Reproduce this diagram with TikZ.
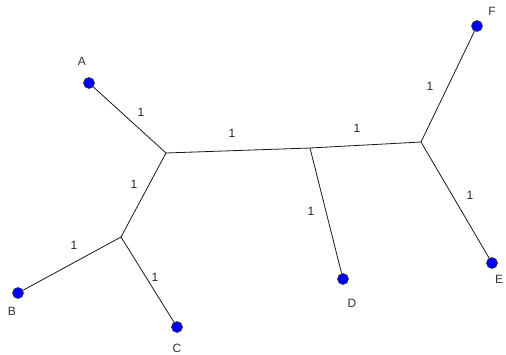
\documentclass[tikz,border=0pt]{standalone}
\usepackage{fontspec}
\setmainfont{Liberation Sans}
\usetikzlibrary{positioning}

\begin{document}
\begin{tikzpicture}[x=1pt,y=-1pt]
\tikzset{
  leaf/.style={circle,draw=black!80,fill=blue,minimum size=11pt,inner sep=0pt,line width=0.6pt},
  leaflabel/.style={font=\fontsize{12}{14}\selectfont,text=black!80,inner sep=0pt},
  weight/.style={font=\fontsize{12}{14}\selectfont,text=black!85,inner sep=0pt},
  branch/.style={line width=0.8pt,black!90}
}
\useasboundingbox[fill=white] (0,0) rectangle (506,354);
% inner vertices
\coordinate (j_AB) at (166,153);
\coordinate (j_BC) at (121,237);
\coordinate (j_D) at (310,148);
\coordinate (j_EF) at (421,142);
% branches
\draw[branch] (j_AB) -- (j_BC);
\draw[branch] (j_AB) -- (j_D);
\draw[branch] (j_D) -- (j_EF);
\node[leaf] (n_A) at (89,83) {};
\node[leaf] (n_B) at (18,293) {};
\node[leaf] (n_C) at (177,327) {};
\node[leaf] (n_D) at (343,279) {};
\node[leaf] (n_E) at (492,263) {};
\node[leaf] (n_F) at (477,26) {};
\draw[branch] (n_A) -- (j_AB);
\draw[branch] (n_B) -- (j_BC);
\draw[branch] (n_C) -- (j_BC);
\draw[branch] (n_D) -- (j_D);
\draw[branch] (n_E) -- (j_EF);
\draw[branch] (n_F) -- (j_EF);
% leaf names
\node[leaflabel] (l_A) at (82,61) {A};
\node[leaflabel] (l_B) at (12,311) {B};
\node[leaflabel] (l_C) at (177,348) {C};
\node[leaflabel] (l_D) at (352,303) {D};
\node[leaflabel] (l_E) at (499,279) {E};
\node[leaflabel] (l_F) at (492,11) {F};
% branch lengths
\node[weight] (w_A) at (141,112) {1};
\node[weight] (w_AB) at (134,184) {1};
\node[weight] (w_B) at (74,245) {1};
\node[weight] (w_C) at (155,277) {1};
\node[weight] (w_ABD) at (232,133) {1};
\node[weight] (w_D) at (311,211) {1};
\node[weight] (w_DEF) at (357,128) {1};
\node[weight] (w_F) at (430,86) {1};
\node[weight] (w_E) at (470,195) {1};
\end{tikzpicture}
\end{document}
